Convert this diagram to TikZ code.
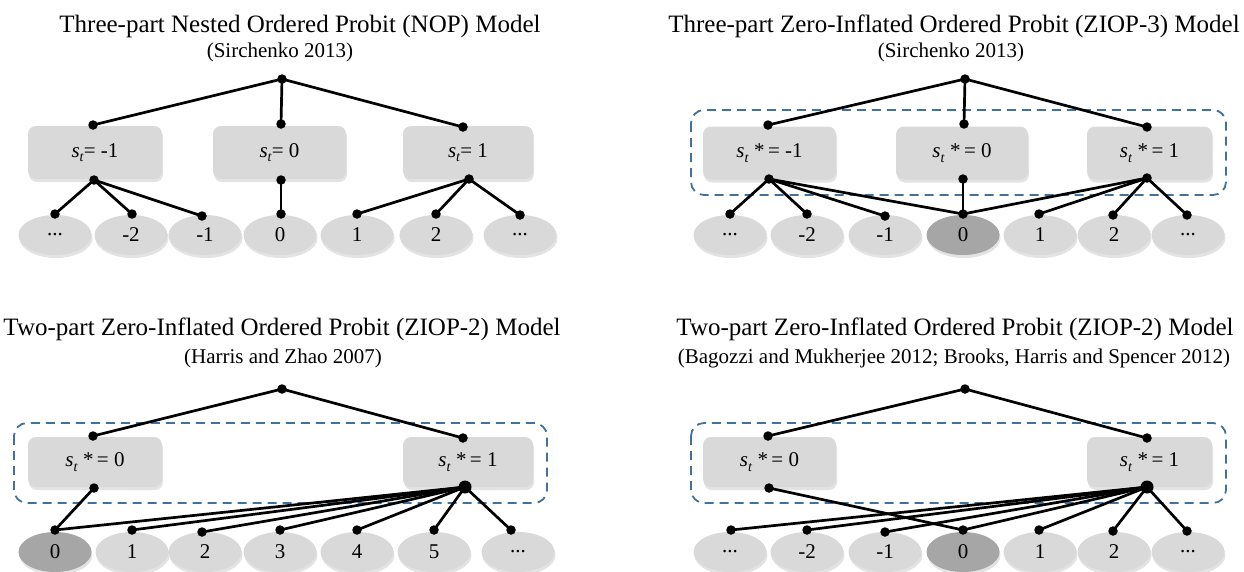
\documentclass[tikz,border=0pt]{standalone}
\usepackage{fontspec}
\setmainfont{Liberation Serif}
\usetikzlibrary{shapes.geometric,shadows}
\definecolor{boxgray}{HTML}{D9D9D9}
\definecolor{zerogray}{HTML}{A6A6A6}
\definecolor{dashblue}{HTML}{41719C}
\newcommand{\stv}{\textit{s}\raisebox{-0.45ex}{\fontsize{14pt}{14pt}\selectfont\textit{t}}}
\tikzset{
  statebox/.style={fill=boxgray, rounded corners=8pt, minimum height=53pt, inner sep=0pt,
    font=\fontsize{21pt}{21pt}\selectfont,
    drop shadow={opacity=0.22, shadow xshift=1pt, shadow yshift=-3pt}},
  outc/.style={ellipse, fill=boxgray, minimum width=73pt, minimum height=40pt, inner sep=0pt,
    font=\fontsize{21pt}{21pt}\selectfont,
    drop shadow={opacity=0.22, shadow xshift=1pt, shadow yshift=-3pt}},
  dot/.style={circle, fill=black, minimum size=9.5pt, inner sep=0pt},
  bigdot/.style={circle, fill=black, minimum size=13pt, inner sep=0pt},
  link/.style={line width=2.7pt},
  group/.style={draw=dashblue, line width=1.8pt, dash pattern=on 9pt off 6pt, rounded corners=13pt},
  ttl/.style={font=\fontsize{25pt}{25pt}\selectfont, anchor=base, inner sep=0pt},
  sub/.style={font=\fontsize{21pt}{21pt}\selectfont, anchor=base, inner sep=0pt},
}
\begin{document}
\begin{tikzpicture}[x=1pt,y=-1pt]
\useasboundingbox (0,0) rectangle (1244,571);

% ================= Panel 1 =================
\node[ttl] (t1) at (300,32) {Three-part Nested Ordered Probit (NOP) Model};
\node[sub] (s1) at (280,57) {(Sirchenko 2013)};
\node[statebox, minimum width=134pt] (b11) at (95,152.5) {\stv= -1};
\node[statebox, minimum width=133pt] (b12) at (279.5,152.5) {\stv= 0};
\node[statebox, minimum width=130pt] (b13) at (468,152.5) {\stv= 1};
\foreach \n/\x/\l/\dx/\dy in {1/55/{...}/55/214, 2/131/-2/132/214, 3/205/-1/202/216, 4/280/0/281/214, 5/357/1/357/214, 6/436/2/436/214, 7/520/{...}/520/215}{
  \node[outc] (a\n) at (\x,235) {\l};
  \node[dot] (ad\n) at (\dx,\dy) {};
}
\node[dot] (r1) at (282,79) {};
\node[dot] (u11) at (93,125) {};
\node[dot] (u12) at (281,124) {};
\node[dot] (u13) at (463,127) {};
\node[dot] (l11) at (94,180) {};
\node[dot] (l12) at (281,180) {};
\node[dot] (l13) at (469,179) {};
\foreach \k in {u11,u12,u13} \draw[link] (r1.center) -- (\k.center);
\foreach \k in {ad1,ad2,ad3} \draw[link] (l11.center) -- (\k.center);
\draw[link] (l12.center) -- (ad4.center);
\foreach \k in {ad5,ad6,ad7} \draw[link] (l13.center) -- (\k.center);

% ================= Panel 2 =================
\node[ttl] (t2) at (954,32) {Three-part Zero-Inflated Ordered Probit (ZIOP-3) Model};
\node[sub] (s2) at (951,57) {(Sirchenko 2013)};
\draw[group] (691,110) rectangle (1226,195);
\node[statebox, minimum width=133pt] (b21) at (769.5,153) {\stv\ *\,= -1};
\node[statebox, minimum width=132pt] (b22) at (962,153) {\stv\ *\,= 0};
\node[statebox, minimum width=125pt] (b23) at (1149.5,153) {\stv\ *\,= 1};
\foreach \n/\x/\l/\f/\dx/\dy in {1/730/{...}/boxgray/730/214, 2/807/-2/boxgray/807/214, 3/885/-1/boxgray/885/216, 4/963/0/zerogray/963/214, 5/1040/1/boxgray/1039/214, 6/1114/2/boxgray/1113/215, 7/1188/{...}/boxgray/1187/215}{
  \node[outc, fill=\f] (c\n) at (\x,235) {\l};
  \node[dot] (cd\n) at (\dx,\dy) {};
}
\node[dot] (r2) at (965,79) {};
\node[dot] (u21) at (768,125) {};
\node[dot] (u22) at (964,124) {};
\node[dot] (u23) at (1147,127) {};
\node[dot] (l21) at (769,179) {};
\node[dot] (l22) at (963,179) {};
\node[dot] (l23) at (1147,178) {};
\foreach \k in {u21,u22,u23} \draw[link] (r2.center) -- (\k.center);
\foreach \k in {cd1,cd2,cd3,cd4} \draw[link] (l21.center) -- (\k.center);
\draw[link] (l22.center) -- (cd4.center);
\foreach \k in {cd4,cd5,cd6,cd7} \draw[link] (l23.center) -- (\k.center);

% ================= Panel 3 =================
\node[ttl] (t3) at (282,335) {Two-part Zero-Inflated Ordered Probit (ZIOP-2) Model};
\node[sub] (s3) at (283,363) {(Harris and Zhao 2007)};
\draw[group] (14,423) rectangle (547,503);
\node[statebox, minimum width=134pt, minimum height=50pt] (b31) at (95,462) {\stv\ *\,= 0};
\node[statebox, minimum width=130pt, minimum height=50pt] (b32) at (468,462) {\stv\ *\,= 1};
\foreach \n/\x/\l/\f/\dx/\dy in {1/55/0/zerogray/55/530, 2/132/1/boxgray/132/530, 3/205/2/boxgray/202/532, 4/280/3/boxgray/280/530, 5/357/4/boxgray/357/530, 6/434/5/boxgray/434/530, 7/518/{...}/boxgray/511/530}{
  \node[outc, fill=\f] (e\n) at (\x,552) {\l};
  \node[dot] (ed\n) at (\dx,\dy) {};
}
\node[dot] (r3) at (282,389) {};
\node[dot] (u31) at (93,436) {};
\node[dot] (u32) at (463,438) {};
\node[dot] (l31) at (94,488) {};
\node[bigdot] (l32) at (465,487) {};
\foreach \k in {u31,u32} \draw[link] (r3.center) -- (\k.center);
\draw[link] (l31.center) -- (ed1.center);
\foreach \k in {ed1,ed2,ed3,ed4,ed5,ed6,ed7} \draw[link] (l32.center) -- (\k.center);

% ================= Panel 4 =================
\node[ttl] (t4) at (955,335) {Two-part Zero-Inflated Ordered Probit (ZIOP-2) Model};
\node[sub] (s4) at (954,363) {(Bagozzi and Mukherjee 2012; Brooks, Harris and Spencer 2012)};
\draw[group] (691,423) rectangle (1226,503);
\node[statebox, minimum width=133pt, minimum height=50pt] (b41) at (769.5,462) {\stv\ *\,= 0};
\node[statebox, minimum width=125pt, minimum height=50pt] (b42) at (1149.5,462) {\stv\ *\,= 1};
\foreach \n/\x/\l/\f/\dx/\dy in {1/730/{...}/boxgray/731/530, 2/807/-2/boxgray/807/530, 3/885/-1/boxgray/885/532, 4/963/0/zerogray/963/530, 5/1040/1/boxgray/1039/530, 6/1114/2/boxgray/1113/531, 7/1188/{...}/boxgray/1187/531}{
  \node[outc, fill=\f] (g\n) at (\x,552) {\l};
  \node[dot] (gd\n) at (\dx,\dy) {};
}
\node[dot] (r4) at (965,389) {};
\node[dot] (u41) at (768,436) {};
\node[dot] (u42) at (1147,438) {};
\node[dot] (l41) at (769,488) {};
\node[bigdot] (l42) at (1147,487) {};
\foreach \k in {u41,u42} \draw[link] (r4.center) -- (\k.center);
\draw[link] (l41.center) -- (gd4.center);
\foreach \k in {gd1,gd2,gd3,gd4,gd5,gd6,gd7} \draw[link] (l42.center) -- (\k.center);
\end{tikzpicture}
\end{document}
